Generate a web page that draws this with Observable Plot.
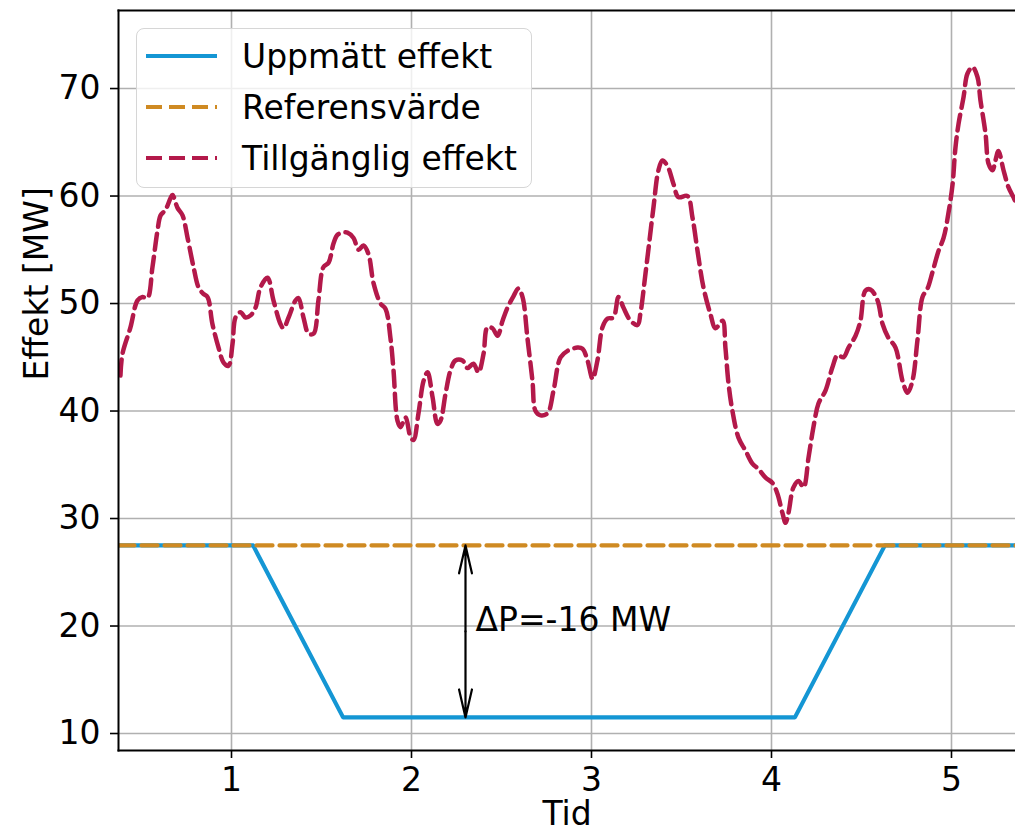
<!DOCTYPE html>
<html>
<head>
<meta charset="utf-8">
<script src="https://cdn.jsdelivr.net/npm/d3@7"></script>
<script src="https://cdn.jsdelivr.net/npm/@observablehq/plot@0.6"></script>
<style>
  html, body { margin: 0; padding: 0; background: #fff; }
  #wrap { position: relative; width: 1015px; height: 838px; overflow: hidden; font-family: "DejaVu Sans", sans-serif; }
  #legend { position: absolute; left: 136px; top: 28px; width: 396px; height: 160px;
    border: 1.5px solid #d6d6d6; border-radius: 8px; background: rgba(255,255,255,0.8); box-sizing: border-box; }
  .row { position: absolute; left: 0; height: 40px; display: flex; align-items: center; }
  .row svg { margin-left: 9px; }
  .row span { margin-left: 25px; font-size: 33px; color: #000; white-space: nowrap; }
</style>
</head>
<body>
<div id="wrap">
  <div id="chart"></div>
  <div id="legend"></div>
</div>
<script>
// ---- Data ----
const seriesNames = ["Uppmätt effekt", "Referensvärde", "Tillgänglig effekt"];
const seriesColors = ["#1496d4", "#cf8a22", "#b3194a"];

const measuredTime  = [0.3, 1.12, 1.62, 4.13, 4.63, 5.4];
const measuredValue = [27.5, 27.5, 11.5, 11.5, 27.5, 27.5];

const referenceTime  = [0.3722, 5.4];
const referenceValue = [27.5, 27.5];

const availableTime = [
  0.383,0.394,0.439,0.478,0.506,0.533,0.561,0.589,0.606,0.633,0.661,0.672,0.700,0.728,0.756,0.789,0.817,0.844,0.867,0.894,
  0.928,0.956,0.983,1.006,1.022,1.050,1.078,1.106,1.133,1.161,1.200,1.233,1.272,1.289,1.317,1.356,1.372,1.400,1.428,1.456,
  1.483,1.511,1.539,1.567,1.589,1.622,1.644,1.678,1.706,1.733,1.761,1.789,1.828,1.856,1.883,1.900,1.922,1.939,1.967,1.994,
  2.011,2.039,2.067,2.089,2.117,2.144,2.161,2.189,2.217,2.244,2.283,2.311,2.344,2.372,2.400,2.422,2.450,2.478,2.506,2.533,
  2.567,2.594,2.617,2.644,2.672,2.689,2.717,2.756,2.789,2.828,2.867,2.922,2.950,2.978,3.006,3.033,3.061,3.089,3.122,3.150,
  3.178,3.217,3.256,3.272,3.300,3.311,3.344,3.372,3.394,3.422,3.456,3.483,3.533,3.561,3.589,3.622,3.661,3.689,3.728,3.744,
  3.761,3.783,3.817,3.856,3.894,3.928,3.967,4.006,4.033,4.061,4.078,4.094,4.122,4.150,4.178,4.206,4.233,4.261,4.300,4.339,
  4.367,4.400,4.428,4.467,4.494,4.522,4.550,4.589,4.617,4.650,4.689,4.728,4.756,4.783,4.811,4.839,4.867,4.894,4.928,4.956,
  4.983,5.006,5.022,5.039,5.067,5.089,5.117,5.144,5.161,5.189,5.206,5.228,5.244,5.261,5.289,5.317,5.344,5.370
];
const availableValue = [
  43.3,45.3,47.8,50.3,50.6,50.5,53.4,56.8,58.2,58.7,59.8,60.1,58.9,58.2,56.1,53.4,51.5,50.9,50.6,48.1,
  45.9,44.5,44.2,46.3,48.7,49.2,48.7,48.9,49.6,51.5,52.4,50.3,48.1,47.7,48.7,50.3,50.5,48.7,47.2,47.2,
  50.3,53.4,53.8,55.6,56.4,56.6,56.6,56.1,55.0,55.4,54.6,51.9,50.0,49.5,46.8,43.8,39.1,38.5,39.4,37.6,
  37.3,39.8,42.8,43.6,41.3,38.8,39.1,41.6,43.8,44.7,44.7,44.0,44.4,43.6,45.3,47.8,47.7,47.0,48.4,49.6,
  50.7,51.4,50.6,46.8,42.8,40.0,39.6,39.8,41.9,45.0,45.6,45.9,45.8,44.7,43.0,44.7,47.8,48.6,48.7,50.6,
  49.6,48.4,48.0,49.1,52.8,54.3,58.9,62.4,63.3,62.8,61.1,59.9,60.0,58.0,54.9,51.5,49.0,47.7,48.4,45.9,
  42.6,40.0,37.5,36.3,35.1,34.6,33.8,33.3,32.3,30.5,29.6,30.5,32.9,33.5,32.9,35.7,38.5,40.7,41.9,44.1,
  45.2,45.0,45.9,47.0,48.4,51.2,51.3,50.3,48.1,46.8,45.9,42.8,41.7,42.8,46.6,50.6,51.4,52.9,54.9,56.1,
  58.4,61.1,64.5,66.7,69.2,71.4,72.0,71.1,68.9,65.8,63.0,62.4,63.3,64.2,62.4,60.8,59.9,58.9
];

const xTicks = [1, 2, 3, 4, 5];
const yTicks = [10, 20, 30, 40, 50, 60, 70];
const xDomain = [0.3722, 5.3556];
const yDomain = [8.42, 77.26];

const arrowX = 2.3;
const arrowTop = 27.5;
const arrowBottom = 11.5;
const annotationText = "ΔP=-16 MW";
const xLabel = "Tid";
const yLabel = "Effekt [MW]";

// ---- Tables ----
const measured = measuredTime.map((t, i) => ({t, v: measuredValue[i]}));
const reference = referenceTime.map((t, i) => ({t, v: referenceValue[i]}));
const available = availableTime.map((t, i) => ({t, v: availableValue[i]}));
const mid = (arrowTop + arrowBottom) / 2;

const font = "DejaVu Sans";
const dash = "16,7";

const chart = Plot.plot({
  width: 1015,
  height: 838,
  marginLeft: 118,
  marginRight: 0,
  marginTop: 10,
  marginBottom: 88,
  style: {fontFamily: font, background: "white", color: "black"},
  x: {domain: xDomain, ticks: xTicks},
  y: {domain: yDomain, ticks: yTicks},
  marks: [
    Plot.gridX(xTicks, {stroke: "#b0b0b0", strokeOpacity: 1, strokeWidth: 1.6}),
    Plot.gridY(yTicks, {stroke: "#b0b0b0", strokeOpacity: 1, strokeWidth: 1.6}),
    Plot.line(measured, {x: "t", y: "v", stroke: seriesColors[0], strokeWidth: 4.2, clip: true}),
    Plot.line(reference, {x: "t", y: "v", stroke: seriesColors[1], strokeWidth: 4.2, strokeDasharray: dash, clip: true}),
    Plot.line(available, {x: "t", y: "v", stroke: seriesColors[2], strokeWidth: 4.5, strokeDasharray: dash, curve: "catmull-rom", clip: true}),
    Plot.arrow([{y1: mid, y2: arrowTop}, {y1: mid, y2: arrowBottom}], {
      x1: () => arrowX, x2: () => arrowX, y1: "y1", y2: "y2",
      stroke: "black", strokeWidth: 2.2, headLength: 38, headAngle: 26
    }),
    Plot.text([annotationText], {x: () => arrowX, y: () => mid, text: d => d, textAnchor: "start",
      dx: 10, dy: -11, fontSize: 33, fill: "black"}),
    Plot.axisX(xTicks, {tickSize: 8, tickPadding: 9, fontSize: 33, label: null, strokeWidth: 1.6, tickFormat: d => String(d)}),
    Plot.axisY(yTicks, {tickSize: 8, tickPadding: 10, fontSize: 33, label: null, strokeWidth: 1.6, tickFormat: d => String(d)}),
    Plot.frame({anchor: "left", strokeWidth: 2}),
    Plot.frame({anchor: "bottom", strokeWidth: 2}),
    Plot.frame({anchor: "top", strokeWidth: 2}),
    Plot.text([yLabel], {frameAnchor: "left", text: d => d, rotate: -90, dx: -81, fontSize: 33, fill: "black"}),
    Plot.text([xLabel], {frameAnchor: "bottom", text: d => d, dy: 74, fontSize: 33, fill: "black"})
  ]
});
document.getElementById("chart").appendChild(chart);

// ---- Legend ----
const legend = document.getElementById("legend");
const rowCenters = [27, 78, 129];
seriesNames.forEach((name, i) => {
  const row = document.createElement("div");
  row.className = "row";
  row.style.top = (rowCenters[i] - 20) + "px";
  const dashed = i > 0 ? `stroke-dasharray="${dash}"` : "";
  row.innerHTML = `<svg width="71" height="10"><line x1="0" y1="5" x2="71" y2="5" stroke="${seriesColors[i]}" stroke-width="4.2" ${dashed}/></svg><span>${name}</span>`;
  legend.appendChild(row);
});
</script>
</body>
</html>
